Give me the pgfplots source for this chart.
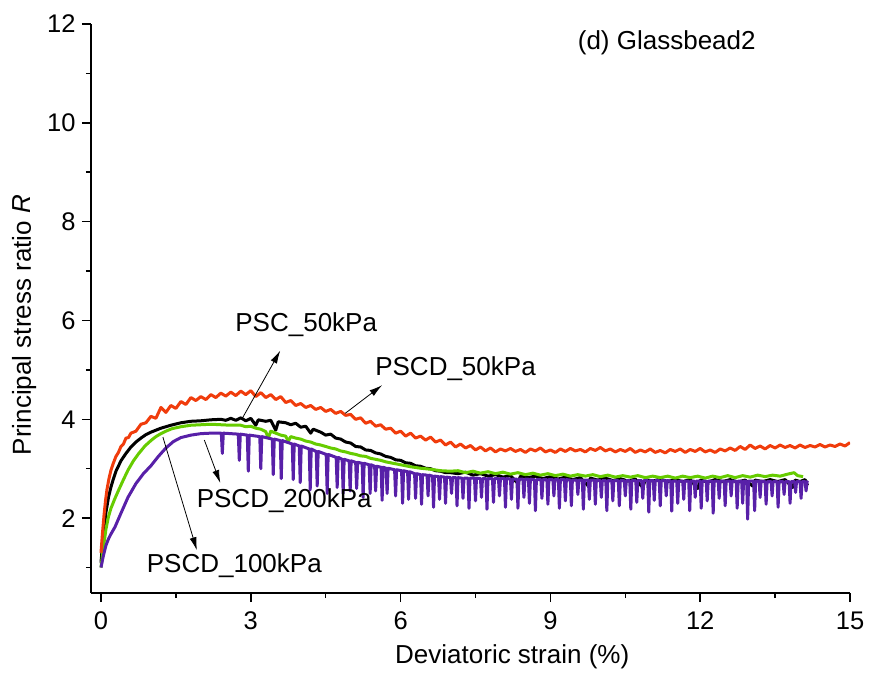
\documentclass[border=0pt]{standalone}
\usepackage{fontspec}
\setmainfont{Liberation Sans}
\usepackage{pgfplots}
\pgfplotsset{compat=1.18}
\usetikzlibrary{arrows.meta}
\definecolor{cred}{RGB}{240,60,12}
\definecolor{cgreen}{RGB}{102,204,0}
\definecolor{cpurple}{RGB}{88,32,168}
\begin{document}
\begin{tikzpicture}
\begin{axis}[
 scale only axis, width=759pt, height=569pt,
 xmin=-0.2, xmax=15, ymin=0.485, ymax=12,
 axis lines=left, axis line style={-, line width=1.5pt},
 xtick={0,3,...,15}, ytick={2,4,...,12},
 minor xtick={1.5,4.5,...,13.5}, minor ytick={1,3,...,11},
 tick align=outside, major tick length=9pt, minor tick length=5pt,
 every tick/.style={black, line width=1.5pt},
 tick label style={font=\fontsize{25.5}{30}\selectfont},
 xticklabel style={yshift=-6pt},
 yticklabel style={xshift=-3pt},
 /pgf/number format/assume math mode=true,
 xlabel={Deviatoric strain (\%)}, ylabel={Principal stress ratio {\itshape R}},
 label style={font=\fontsize{26}{30}\selectfont},
 xlabel style={at={(axis description cs:0.555,-0.112)}, anchor=center},
 ylabel style={at={(axis description cs:-0.088,0.471)}, anchor=center},
 every axis plot/.append style={line width=3pt, line join=round},
]
% PSC_50kPa (black)
\addplot[black] coordinates {
(0,1.10)(0.03,1.45)(0.06,1.78)(0.1,2.12)(0.15,2.42)(0.2,2.63)(0.25,2.80)(0.3,2.95)(0.4,3.16)(0.5,3.31)(0.6,3.44)(0.7,3.54)(0.8,3.62)(0.9,3.69)(1.0,3.74)(1.2,3.82)(1.4,3.88)(1.6,3.93)(1.8,3.96)(2.0,3.97)(2.2,3.99)(2.4,4.00)(2.5,3.98)(2.6,4.02)(2.7,3.98)(2.8,4.03)(2.9,3.97)(3.0,4.02)(3.1,3.88)(3.15,3.99)(3.3,3.96)(3.4,3.98)(3.5,3.78)(3.55,3.95)(3.7,3.93)(3.8,3.89)(3.9,3.92)(4.0,3.84)(4.1,3.86)(4.2,3.72)(4.25,3.80)(4.4,3.74)(4.5,3.68)(4.6,3.70)(4.7,3.62)(4.8,3.60)(4.9,3.54)(5.0,3.52)(5.1,3.45)(5.2,3.44)(5.3,3.38)(5.4,3.37)(5.5,3.32)(5.6,3.30)(5.7,3.25)(5.8,3.23)(5.9,3.18)(6.0,3.17)(6.1,3.12)(6.2,3.11)(6.3,3.06)(6.4,3.05)(6.5,3.01)(6.6,3.00)(6.7,2.96)(6.8,2.95)(6.9,2.92)(7.0,2.92)
(7.15,2.90)(7.3,2.93)(7.45,2.87)(7.6,2.90)(7.75,2.85)(7.9,2.88)(8.05,2.83)(8.2,2.86)(8.35,2.70)(8.4,2.85)(8.55,2.82)(8.7,2.85)(8.85,2.80)(9.0,2.84)(9.15,2.79)(9.3,2.83)(9.45,2.78)(9.6,2.82)(9.75,2.66)(9.8,2.81)(9.95,2.77)(10.1,2.81)(10.25,2.76)(10.4,2.80)(10.55,2.75)(10.7,2.79)(10.85,2.62)(10.9,2.78)(11.05,2.75)(11.2,2.79)(11.35,2.74)(11.5,2.78)(11.65,2.74)(11.8,2.78)(11.95,2.60)(12.0,2.77)(12.15,2.73)(12.3,2.78)(12.45,2.74)(12.6,2.78)(12.75,2.73)(12.9,2.77)(13.05,2.65)(13.1,2.77)(13.25,2.74)(13.4,2.78)(13.55,2.74)(13.7,2.78)(13.85,2.62)(13.9,2.77)(14.0,2.74)(14.1,2.78)(14.15,2.66)
};
% PSCD_200kPa (green)
\addplot[cgreen] coordinates {
(0,1.00)(0.05,1.42)(0.1,1.78)(0.15,2.03)(0.2,2.20)(0.28,2.40)(0.35,2.56)(0.45,2.78)(0.54,2.97)(0.65,3.16)(0.75,3.30)(0.88,3.46)(1.0,3.57)(1.1,3.65)(1.2,3.71)(1.3,3.76)(1.42,3.81)(1.6,3.85)(1.8,3.88)(2.0,3.89)(2.2,3.90)(2.4,3.89)(2.6,3.88)(2.8,3.88)(2.9,3.85)(3.0,3.86)(3.1,3.82)(3.2,3.80)(3.3,3.75)(3.35,3.62)(3.4,3.76)(3.5,3.72)(3.6,3.68)(3.7,3.66)(3.75,3.55)(3.8,3.65)(3.9,3.62)(4.0,3.60)(4.1,3.56)(4.2,3.54)(4.3,3.50)(4.4,3.48)(4.5,3.45)(4.6,3.42)(4.7,3.40)(4.8,3.36)(4.9,3.34)(5.0,3.31)(5.1,3.29)(5.2,3.26)(5.3,3.25)(5.4,3.21)(5.5,3.19)(5.6,3.17)(5.7,3.14)(5.8,3.12)(5.9,3.10)(6.0,3.08)(6.2,3.04)(6.4,3.01)(6.6,2.99)(6.8,2.96)(7.0,2.95)
(7.15,2.96)(7.3,2.92)(7.45,2.95)(7.6,2.91)(7.75,2.94)(7.9,2.90)(8.05,2.93)(8.2,2.89)(8.35,2.92)(8.5,2.88)(8.65,2.91)(8.8,2.87)(8.95,2.90)(9.1,2.86)(9.25,2.89)(9.4,2.85)(9.55,2.88)(9.7,2.85)(9.85,2.88)(10.0,2.84)(10.15,2.87)(10.3,2.83)(10.45,2.86)(10.6,2.83)(10.75,2.86)(10.9,2.82)(11.05,2.85)(11.2,2.82)(11.35,2.85)(11.5,2.81)(11.65,2.85)(11.8,2.82)(11.95,2.85)(12.1,2.81)(12.25,2.85)(12.4,2.82)(12.55,2.86)(12.7,2.82)(12.85,2.86)(13.0,2.83)(13.15,2.87)(13.3,2.84)(13.45,2.87)(13.6,2.85)(13.75,2.89)(13.88,2.92)(13.95,2.86)(14.06,2.84)
};
% PSCD_100kPa (purple)
\addplot[cpurple] coordinates {
(0,1.00)(0.05,1.25)(0.1,1.45)(0.15,1.58)(0.2,1.68)(0.28,1.82)(0.4,2.10)(0.54,2.42)(0.7,2.70)(0.85,2.90)(1.0,3.06)(1.15,3.25)(1.3,3.42)(1.45,3.55)(1.6,3.63)(1.8,3.68)(2.0,3.71)(2.2,3.72)
(2.41,3.72)(2.43,3.31)(2.45,3.72)
(2.75,3.70)(2.77,3.17)(2.79,3.70)
(2.93,3.68)(2.95,2.95)(2.97,3.68)
(3.18,3.65)(3.20,3.00)(3.22,3.65)
(3.43,3.60)(3.45,2.88)(3.47,3.60)
(3.59,3.57)(3.61,2.80)(3.63,3.57)
(3.83,3.50)(3.85,2.78)(3.87,3.50)
(3.97,3.46)(3.99,2.72)(4.01,3.46)
(4.17,3.40)(4.19,2.57)(4.21,3.40)
(4.31,3.35)(4.33,2.65)(4.35,3.35)
(4.51,3.29)(4.53,2.50)(4.55,3.29)
(4.71,3.23)(4.73,2.62)(4.75,3.23)
(4.83,3.19)(4.85,2.50)(4.87,3.19)
(4.97,3.16)(4.99,2.55)(5.01,3.16)
(5.10,3.13)(5.12,2.60)(5.14,3.13)
(5.23,3.11)(5.25,2.42)(5.27,3.11)
(5.37,3.08)(5.39,2.50)(5.41,3.08)
(5.48,3.05)(5.50,2.55)(5.52,3.05)
(5.61,3.03)(5.63,2.36)(5.65,3.03)
(5.71,3.01)(5.73,2.50)(5.75,3.01)
(5.88,2.98)(5.90,2.45)(5.92,2.98)
(6.02,2.96)(6.04,2.30)(6.06,2.96)
(6.14,2.94)(6.16,2.38)(6.18,2.94)
(6.28,2.90)(6.30,2.40)(6.32,2.90)
(6.40,2.88)(6.42,2.28)(6.44,2.88)
(6.53,2.87)(6.55,2.45)(6.57,2.87)
(6.64,2.85)(6.66,2.22)(6.68,2.85)
(6.76,2.84)(6.78,2.38)(6.80,2.84)
(6.88,2.83)(6.90,2.30)(6.92,2.83)
(7.00,2.82)(7.02,2.50)(7.04,2.82)
(7.11,2.82)(7.13,2.25)(7.15,2.82)
(7.23,2.81)(7.25,2.40)(7.27,2.81)
(7.35,2.81)(7.37,2.20)(7.39,2.81)
(7.48,2.81)(7.50,2.35)(7.52,2.81)
(7.60,2.80)(7.62,2.42)(7.64,2.80)
(7.71,2.80)(7.73,2.18)(7.75,2.80)
(7.84,2.80)(7.86,2.32)(7.88,2.80)
(7.96,2.80)(7.98,2.45)(8.00,2.80)
(8.08,2.80)(8.10,2.22)(8.12,2.80)
(8.20,2.79)(8.22,2.38)(8.24,2.79)
(8.33,2.79)(8.35,2.20)(8.37,2.79)
(8.45,2.79)(8.47,2.42)(8.49,2.79)
(8.56,2.79)(8.58,2.30)(8.60,2.79)
(8.68,2.78)(8.70,2.15)(8.72,2.78)
(8.81,2.78)(8.83,2.40)(8.85,2.78)
(8.93,2.78)(8.95,2.28)(8.97,2.78)
(9.05,2.78)(9.07,2.45)(9.09,2.78)
(9.16,2.78)(9.18,2.20)(9.20,2.78)
(9.28,2.78)(9.30,2.35)(9.32,2.78)
(9.40,2.77)(9.42,2.25)(9.44,2.77)
(9.53,2.77)(9.55,2.48)(9.57,2.77)
(9.64,2.77)(9.66,2.18)(9.68,2.77)
(9.76,2.77)(9.78,2.38)(9.80,2.77)
(9.88,2.77)(9.90,2.28)(9.92,2.77)
(10.00,2.76)(10.02,2.42)(10.04,2.76)
(10.11,2.76)(10.13,2.15)(10.15,2.76)
(10.23,2.76)(10.25,2.35)(10.27,2.76)
(10.36,2.76)(10.38,2.25)(10.40,2.76)
(10.48,2.76)(10.50,2.45)(10.52,2.76)
(10.59,2.76)(10.61,2.18)(10.63,2.76)
(10.71,2.76)(10.73,2.32)(10.75,2.76)
(10.83,2.76)(10.85,2.40)(10.87,2.76)
(10.95,2.76)(10.97,2.12)(10.99,2.76)
(11.06,2.76)(11.08,2.36)(11.10,2.76)
(11.18,2.76)(11.20,2.25)(11.22,2.76)
(11.30,2.76)(11.32,2.45)(11.34,2.76)
(11.41,2.75)(11.43,2.14)(11.45,2.75)
(11.53,2.75)(11.55,2.30)(11.57,2.75)
(11.65,2.75)(11.67,2.38)(11.69,2.75)
(11.77,2.75)(11.79,2.15)(11.81,2.75)
(11.88,2.75)(11.90,2.42)(11.92,2.75)
(12.00,2.75)(12.02,2.20)(12.04,2.75)
(12.12,2.75)(12.14,2.35)(12.16,2.75)
(12.24,2.75)(12.26,2.10)(12.28,2.75)
(12.36,2.75)(12.38,2.40)(12.40,2.75)
(12.48,2.75)(12.50,2.25)(12.52,2.75)
(12.60,2.75)(12.62,2.45)(12.64,2.75)
(12.72,2.75)(12.74,2.20)(12.76,2.75)
(12.83,2.75)(12.85,2.30)(12.87,2.75)
(12.93,2.75)(12.95,1.98)(12.97,2.75)
(13.07,2.75)(13.09,2.15)(13.11,2.75)
(13.18,2.75)(13.20,2.42)(13.22,2.75)
(13.30,2.74)(13.32,2.28)(13.34,2.74)
(13.42,2.74)(13.44,2.45)(13.46,2.74)
(13.54,2.74)(13.56,2.22)(13.58,2.74)
(13.66,2.74)(13.68,2.48)(13.70,2.74)
(13.78,2.74)(13.80,2.30)(13.82,2.74)
(13.89,2.74)(13.91,2.52)(13.93,2.74)
(14.00,2.74)(14.02,2.40)(14.04,2.74)
(14.10,2.74)(14.12,2.55)(14.14,2.74)(14.15,2.72)
};
% PSCD_50kPa (red)
\addplot[cred] coordinates {
(0,1.30)(0.03,1.70)(0.06,2.05)(0.09,2.35)(0.12,2.58)(0.16,2.80)(0.20,2.97)(0.25,3.12)(0.30,3.25)(0.35,3.33)(0.40,3.45)(0.45,3.50)(0.50,3.62)(0.55,3.63)(0.60,3.72)(0.7,3.76)(0.8,3.90)(0.9,3.93)(1.0,4.06)(1.1,4.02)(1.2,4.24)(1.3,4.14)(1.4,4.28)(1.5,4.22)(1.6,4.36)(1.7,4.30)(1.8,4.44)(1.9,4.38)(2.0,4.46)(2.1,4.40)(2.2,4.50)(2.3,4.44)(2.4,4.53)(2.5,4.47)(2.6,4.55)(2.7,4.48)(2.8,4.57)(2.9,4.50)(3.0,4.58)(3.1,4.46)(3.2,4.54)(3.3,4.44)(3.4,4.50)(3.5,4.40)(3.6,4.46)(3.7,4.34)(3.8,4.38)(3.9,4.28)(4.0,4.32)(4.1,4.24)(4.2,4.28)(4.3,4.20)(4.4,4.24)(4.5,4.16)(4.6,4.20)(4.7,4.12)(4.8,4.16)(4.9,4.08)(5.0,4.10)(5.1,4.00)(5.2,4.03)(5.3,3.92)(5.4,3.96)(5.5,3.86)(5.6,3.89)(5.7,3.80)(5.8,3.82)(5.9,3.72)(6.0,3.76)(6.1,3.66)(6.2,3.72)(6.3,3.62)(6.4,3.66)(6.5,3.58)(6.6,3.64)(6.7,3.54)(6.8,3.58)(6.9,3.48)(7.0,3.54)(7.1,3.44)(7.2,3.50)(7.3,3.42)(7.4,3.47)(7.5,3.38)(7.6,3.44)(7.7,3.36)(7.8,3.42)(7.9,3.34)(8.0,3.40)
(8.1,3.36)(8.2,3.41)(8.3,3.35)(8.4,3.39)(8.5,3.33)(8.6,3.40)(8.7,3.36)(8.8,3.42)(8.9,3.34)(9.0,3.38)(9.1,3.33)(9.2,3.40)(9.3,3.35)(9.4,3.41)(9.5,3.36)(9.6,3.39)(9.7,3.34)(9.8,3.41)(9.9,3.37)(10.0,3.43)(10.1,3.36)(10.2,3.40)(10.3,3.34)(10.4,3.39)(10.5,3.35)(10.6,3.41)(10.7,3.33)(10.8,3.38)(10.9,3.34)(11.0,3.40)(11.1,3.33)(11.2,3.37)(11.3,3.32)(11.4,3.39)(11.5,3.35)(11.6,3.40)(11.7,3.33)(11.8,3.39)(11.9,3.35)(12.0,3.41)(12.1,3.34)(12.2,3.38)(12.3,3.33)(12.4,3.40)(12.5,3.36)(12.6,3.42)(12.7,3.37)(12.8,3.45)(12.9,3.39)(13.0,3.48)(13.1,3.41)(13.2,3.46)(13.3,3.40)(13.4,3.47)(13.5,3.42)(13.6,3.48)(13.7,3.43)(13.8,3.47)(13.9,3.42)(14.0,3.48)(14.1,3.43)(14.2,3.47)(14.3,3.44)(14.4,3.49)(14.5,3.44)(14.6,3.48)(14.7,3.45)(14.8,3.50)(14.9,3.46)(15.0,3.53)
};
% annotations
\draw[-{Latex[length=13pt,width=7pt]}, line width=0.8pt] (axis cs:2.83,4.02) -- (axis cs:3.59,5.39);
\draw[-{Latex[length=13pt,width=7pt]}, line width=0.8pt] (axis cs:4.89,4.12) -- (axis cs:5.63,4.69);
\draw[-{Latex[length=13pt,width=7pt]}, line width=0.8pt] (axis cs:2.07,3.58) -- (axis cs:2.39,2.71);
\draw[-{Latex[length=13pt,width=7pt]}, line width=0.8pt] (axis cs:1.24,3.64) -- (axis cs:1.92,1.35);
\node[font=\fontsize{26}{30}\selectfont] at (axis cs:4.11,5.92) {PSC\_50kPa};
\node[font=\fontsize{26}{30}\selectfont] at (axis cs:7.10,5.03) {PSCD\_50kPa};
\node[font=\fontsize{26}{30}\selectfont] at (axis cs:3.67,2.36) {PSCD\_200kPa};
\node[font=\fontsize{26}{30}\selectfont] at (axis cs:2.67,1.03) {PSCD\_100kPa};
\node[font=\fontsize{26}{30}\selectfont] at (axis cs:11.33,11.62) {(d) Glassbead2};
\end{axis}
\path ([xshift=-91pt,yshift=-82pt]current axis.south west) rectangle ([xshift=778pt,yshift=593pt]current axis.south west);
\end{tikzpicture}
\end{document}
